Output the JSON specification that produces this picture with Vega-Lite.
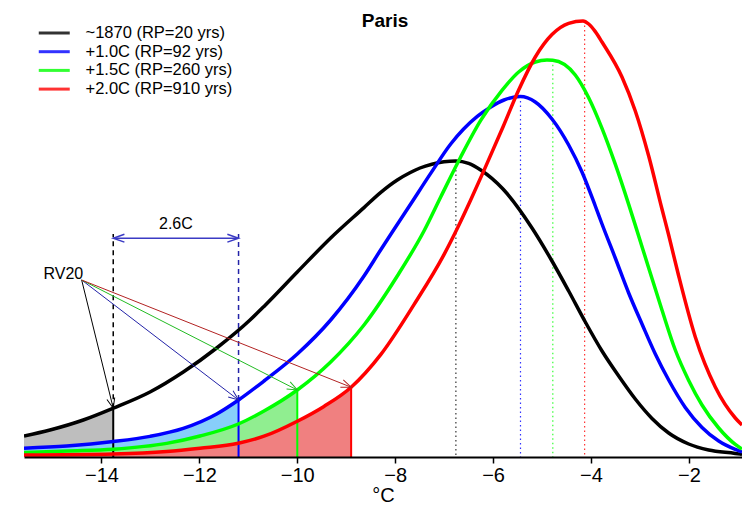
{
  "$schema": "https://vega.github.io/schema/vega-lite/v6.json",
  "width": 718,
  "height": 457,
  "autosize": {"type": "none"},
  "padding": {"left": 24, "top": 0, "right": 0, "bottom": 49},
  "background": "white",
  "config": {"view": {"stroke": null}, "font": "Liberation Sans"},
  "title": {"text": "Paris", "font": "Liberation Sans", "fontSize": 19, "fontWeight": "bold", "color": "#000000", "anchor": "middle", "frame": "group", "offset": -46, "baseline": "alphabetic", "dx": 2},
  "datasets": {
    "curves": [
      {"series": "~1870 (RP=20 yrs)", "x": -15.583, "density": 0.0105},
      {"series": "~1870 (RP=20 yrs)", "x": -15.052, "density": 0.0135},
      {"series": "~1870 (RP=20 yrs)", "x": -14.372, "density": 0.0185},
      {"series": "~1870 (RP=20 yrs)", "x": -13.76, "density": 0.0244},
      {"series": "~1870 (RP=20 yrs)", "x": -13.009, "density": 0.0325},
      {"series": "~1870 (RP=20 yrs)", "x": -12.329, "density": 0.0425},
      {"series": "~1870 (RP=20 yrs)", "x": -11.647, "density": 0.0545},
      {"series": "~1870 (RP=20 yrs)", "x": -10.966, "density": 0.0685},
      {"series": "~1870 (RP=20 yrs)", "x": -10.68, "density": 0.0753},
      {"series": "~1870 (RP=20 yrs)", "x": -10.0, "density": 0.0925},
      {"series": "~1870 (RP=20 yrs)", "x": -9.318, "density": 0.1095},
      {"series": "~1870 (RP=20 yrs)", "x": -8.637, "density": 0.1247},
      {"series": "~1870 (RP=20 yrs)", "x": -8.3, "density": 0.1322},
      {"series": "~1870 (RP=20 yrs)", "x": -7.957, "density": 0.1385},
      {"series": "~1870 (RP=20 yrs)", "x": -7.7, "density": 0.1421},
      {"series": "~1870 (RP=20 yrs)", "x": -7.493, "density": 0.1445},
      {"series": "~1870 (RP=20 yrs)", "x": -7.25, "density": 0.1464},
      {"series": "~1870 (RP=20 yrs)", "x": -7.003, "density": 0.1476},
      {"series": "~1870 (RP=20 yrs)", "x": -6.76, "density": 0.148},
      {"series": "~1870 (RP=20 yrs)", "x": -6.5, "density": 0.1468},
      {"series": "~1870 (RP=20 yrs)", "x": -6.253, "density": 0.1435},
      {"series": "~1870 (RP=20 yrs)", "x": -5.798, "density": 0.134},
      {"series": "~1870 (RP=20 yrs)", "x": -5.205, "density": 0.1145},
      {"series": "~1870 (RP=20 yrs)", "x": -4.797, "density": 0.098},
      {"series": "~1870 (RP=20 yrs)", "x": -4.456, "density": 0.083},
      {"series": "~1870 (RP=20 yrs)", "x": -4.116, "density": 0.0675},
      {"series": "~1870 (RP=20 yrs)", "x": -3.775, "density": 0.053},
      {"series": "~1870 (RP=20 yrs)", "x": -3.434, "density": 0.0405},
      {"series": "~1870 (RP=20 yrs)", "x": -3.095, "density": 0.029},
      {"series": "~1870 (RP=20 yrs)", "x": -2.754, "density": 0.0193},
      {"series": "~1870 (RP=20 yrs)", "x": -2.413, "density": 0.012},
      {"series": "~1870 (RP=20 yrs)", "x": -2.004, "density": 0.0065},
      {"series": "~1870 (RP=20 yrs)", "x": -1.596, "density": 0.0035},
      {"series": "~1870 (RP=20 yrs)", "x": -1.052, "density": 0.0018},
      {"series": "~1870 (RP=20 yrs)", "x": -0.915, "density": 0.0013},
      {"series": "+1.0C (RP=92 yrs)", "x": -15.583, "density": 0.0044},
      {"series": "+1.0C (RP=92 yrs)", "x": -14.711, "density": 0.0055},
      {"series": "+1.0C (RP=92 yrs)", "x": -13.76, "density": 0.0077},
      {"series": "+1.0C (RP=92 yrs)", "x": -13.009, "density": 0.0103},
      {"series": "+1.0C (RP=92 yrs)", "x": -12.329, "density": 0.0143},
      {"series": "+1.0C (RP=92 yrs)", "x": -11.647, "density": 0.0215},
      {"series": "+1.0C (RP=92 yrs)", "x": -11.2, "density": 0.0285},
      {"series": "+1.0C (RP=92 yrs)", "x": -10.68, "density": 0.038},
      {"series": "+1.0C (RP=92 yrs)", "x": -10.0, "density": 0.0515},
      {"series": "+1.0C (RP=92 yrs)", "x": -9.318, "density": 0.0685},
      {"series": "+1.0C (RP=92 yrs)", "x": -8.637, "density": 0.0905},
      {"series": "+1.0C (RP=92 yrs)", "x": -8.311, "density": 0.103},
      {"series": "+1.0C (RP=92 yrs)", "x": -8.059, "density": 0.1125},
      {"series": "+1.0C (RP=92 yrs)", "x": -7.683, "density": 0.1265},
      {"series": "+1.0C (RP=92 yrs)", "x": -7.275, "density": 0.1418},
      {"series": "+1.0C (RP=92 yrs)", "x": -6.866, "density": 0.1565},
      {"series": "+1.0C (RP=92 yrs)", "x": -6.323, "density": 0.1703},
      {"series": "+1.0C (RP=92 yrs)", "x": -6.063, "density": 0.1748},
      {"series": "+1.0C (RP=92 yrs)", "x": -5.777, "density": 0.1785},
      {"series": "+1.0C (RP=92 yrs)", "x": -5.444, "density": 0.1802},
      {"series": "+1.0C (RP=92 yrs)", "x": -5.138, "density": 0.1775},
      {"series": "+1.0C (RP=92 yrs)", "x": -4.797, "density": 0.169},
      {"series": "+1.0C (RP=92 yrs)", "x": -4.456, "density": 0.156},
      {"series": "+1.0C (RP=92 yrs)", "x": -4.184, "density": 0.1425},
      {"series": "+1.0C (RP=92 yrs)", "x": -3.912, "density": 0.1255},
      {"series": "+1.0C (RP=92 yrs)", "x": -3.775, "density": 0.1165},
      {"series": "+1.0C (RP=92 yrs)", "x": -3.504, "density": 0.0995},
      {"series": "+1.0C (RP=92 yrs)", "x": -3.23, "density": 0.082},
      {"series": "+1.0C (RP=92 yrs)", "x": -2.958, "density": 0.0665},
      {"series": "+1.0C (RP=92 yrs)", "x": -2.686, "density": 0.0515},
      {"series": "+1.0C (RP=92 yrs)", "x": -2.413, "density": 0.0385},
      {"series": "+1.0C (RP=92 yrs)", "x": -2.074, "density": 0.0248},
      {"series": "+1.0C (RP=92 yrs)", "x": -1.732, "density": 0.0148},
      {"series": "+1.0C (RP=92 yrs)", "x": -1.391, "density": 0.008},
      {"series": "+1.0C (RP=92 yrs)", "x": -1.052, "density": 0.0038},
      {"series": "+1.0C (RP=92 yrs)", "x": -0.915, "density": 0.0025},
      {"series": "+1.5C (RP=260 yrs)", "x": -15.583, "density": 0.0022},
      {"series": "+1.5C (RP=260 yrs)", "x": -14.7, "density": 0.003},
      {"series": "+1.5C (RP=260 yrs)", "x": -13.76, "density": 0.0039},
      {"series": "+1.5C (RP=260 yrs)", "x": -12.668, "density": 0.0068},
      {"series": "+1.5C (RP=260 yrs)", "x": -11.988, "density": 0.0105},
      {"series": "+1.5C (RP=260 yrs)", "x": -11.205, "density": 0.0165},
      {"series": "+1.5C (RP=260 yrs)", "x": -10.68, "density": 0.023},
      {"series": "+1.5C (RP=260 yrs)", "x": -10.0, "density": 0.0335},
      {"series": "+1.5C (RP=260 yrs)", "x": -9.318, "density": 0.0475},
      {"series": "+1.5C (RP=260 yrs)", "x": -8.637, "density": 0.066},
      {"series": "+1.5C (RP=260 yrs)", "x": -7.957, "density": 0.0905},
      {"series": "+1.5C (RP=260 yrs)", "x": -7.412, "density": 0.113},
      {"series": "+1.5C (RP=260 yrs)", "x": -7.07, "density": 0.13},
      {"series": "+1.5C (RP=260 yrs)", "x": -6.662, "density": 0.15},
      {"series": "+1.5C (RP=260 yrs)", "x": -6.253, "density": 0.1683},
      {"series": "+1.5C (RP=260 yrs)", "x": -5.818, "density": 0.1833},
      {"series": "+1.5C (RP=260 yrs)", "x": -5.477, "density": 0.1925},
      {"series": "+1.5C (RP=260 yrs)", "x": -5.138, "density": 0.1975},
      {"series": "+1.5C (RP=260 yrs)", "x": -4.899, "density": 0.1985},
      {"series": "+1.5C (RP=260 yrs)", "x": -4.782, "density": 0.1984},
      {"series": "+1.5C (RP=260 yrs)", "x": -4.321, "density": 0.191},
      {"series": "+1.5C (RP=260 yrs)", "x": -4.047, "density": 0.1796},
      {"series": "+1.5C (RP=260 yrs)", "x": -3.775, "density": 0.1643},
      {"series": "+1.5C (RP=260 yrs)", "x": -3.504, "density": 0.1464},
      {"series": "+1.5C (RP=260 yrs)", "x": -3.23, "density": 0.1263},
      {"series": "+1.5C (RP=260 yrs)", "x": -3.081, "density": 0.1148},
      {"series": "+1.5C (RP=260 yrs)", "x": -2.821, "density": 0.0945},
      {"series": "+1.5C (RP=260 yrs)", "x": -2.55, "density": 0.0735},
      {"series": "+1.5C (RP=260 yrs)", "x": -2.278, "density": 0.0535},
      {"series": "+1.5C (RP=260 yrs)", "x": -2.004, "density": 0.0383},
      {"series": "+1.5C (RP=260 yrs)", "x": -1.732, "density": 0.026},
      {"series": "+1.5C (RP=260 yrs)", "x": -1.391, "density": 0.0145},
      {"series": "+1.5C (RP=260 yrs)", "x": -1.052, "density": 0.0063},
      {"series": "+1.5C (RP=260 yrs)", "x": -0.915, "density": 0.004},
      {"series": "+2.0C (RP=910 yrs)", "x": -15.583, "density": 0.001},
      {"series": "+2.0C (RP=910 yrs)", "x": -13.76, "density": 0.0015},
      {"series": "+2.0C (RP=910 yrs)", "x": -12.668, "density": 0.0027},
      {"series": "+2.0C (RP=910 yrs)", "x": -11.988, "density": 0.0044},
      {"series": "+2.0C (RP=910 yrs)", "x": -11.205, "density": 0.0069},
      {"series": "+2.0C (RP=910 yrs)", "x": -10.68, "density": 0.0104},
      {"series": "+2.0C (RP=910 yrs)", "x": -10.0, "density": 0.0179},
      {"series": "+2.0C (RP=910 yrs)", "x": -9.455, "density": 0.0253},
      {"series": "+2.0C (RP=910 yrs)", "x": -8.9, "density": 0.0349},
      {"series": "+2.0C (RP=910 yrs)", "x": -8.296, "density": 0.0512},
      {"series": "+2.0C (RP=910 yrs)", "x": -7.616, "density": 0.0762},
      {"series": "+2.0C (RP=910 yrs)", "x": -7.003, "density": 0.1012},
      {"series": "+2.0C (RP=910 yrs)", "x": -6.717, "density": 0.115},
      {"series": "+2.0C (RP=910 yrs)", "x": -6.458, "density": 0.1285},
      {"series": "+2.0C (RP=910 yrs)", "x": -6.186, "density": 0.1433},
      {"series": "+2.0C (RP=910 yrs)", "x": -5.798, "density": 0.165},
      {"series": "+2.0C (RP=910 yrs)", "x": -5.477, "density": 0.1835},
      {"series": "+2.0C (RP=910 yrs)", "x": -5.138, "density": 0.2},
      {"series": "+2.0C (RP=910 yrs)", "x": -4.797, "density": 0.2112},
      {"series": "+2.0C (RP=910 yrs)", "x": -4.456, "density": 0.2168},
      {"series": "+2.0C (RP=910 yrs)", "x": -4.163, "density": 0.218},
      {"series": "+2.0C (RP=910 yrs)", "x": -4.047, "density": 0.2165},
      {"series": "+2.0C (RP=910 yrs)", "x": -3.912, "density": 0.2127},
      {"series": "+2.0C (RP=910 yrs)", "x": -3.775, "density": 0.2075},
      {"series": "+2.0C (RP=910 yrs)", "x": -3.367, "density": 0.19},
      {"series": "+2.0C (RP=910 yrs)", "x": -3.095, "density": 0.173},
      {"series": "+2.0C (RP=910 yrs)", "x": -2.821, "density": 0.1505},
      {"series": "+2.0C (RP=910 yrs)", "x": -2.55, "density": 0.124},
      {"series": "+2.0C (RP=910 yrs)", "x": -2.413, "density": 0.111},
      {"series": "+2.0C (RP=910 yrs)", "x": -2.208, "density": 0.0905},
      {"series": "+2.0C (RP=910 yrs)", "x": -1.869, "density": 0.06},
      {"series": "+2.0C (RP=910 yrs)", "x": -1.461, "density": 0.035},
      {"series": "+2.0C (RP=910 yrs)", "x": -1.052, "density": 0.0195},
      {"series": "+2.0C (RP=910 yrs)", "x": -0.915, "density": 0.016}
    ],
    "stats": [
      {"series": "~1870 (RP=20 yrs)", "rv20": -13.76, "d_rv": 0.0244, "mode": -6.76, "peak": 0.148},
      {"series": "+1.0C (RP=92 yrs)", "rv20": -11.2, "d_rv": 0.0285, "mode": -5.44, "peak": 0.1802},
      {"series": "+1.5C (RP=260 yrs)", "rv20": -10.0, "d_rv": 0.0335, "mode": -4.78, "peak": 0.1984},
      {"series": "+2.0C (RP=910 yrs)", "rv20": -8.9, "d_rv": 0.0349, "mode": -4.13, "peak": 0.218}
    ],
    "span": [
      {"from": -13.76, "to": -11.2, "level": 0.1094}
    ]
  },
  "layer": [
    {
      "data": {"name": "curves"},
      "transform": [
        {"filter": "(datum.series == '~1870 (RP=20 yrs)' && datum.x <= -13.7599) || (datum.series == '+1.0C (RP=92 yrs)' && datum.x <= -11.1999) || (datum.series == '+1.5C (RP=260 yrs)' && datum.x <= -9.9999) || (datum.series == '+2.0C (RP=910 yrs)' && datum.x <= -8.8999)"}
      ],
      "mark": {"type": "area", "interpolate": "monotone", "clip": true},
      "encoding": {
        "x": {"field": "x", "type": "quantitative", "scale": {"domain": [-15.583, -0.915], "nice": false, "zero": false},
              "axis": {"values": [-14, -12, -10, -8, -6, -4, -2], "title": "°C", "titleFont": "Liberation Sans", "titleFontSize": 20, "titleFontWeight": "normal", "titleColor": "#000000", "titlePadding": 0,
                       "labelFont": "Liberation Sans", "labelFontSize": 20, "labelColor": "#000000", "labelPadding": 2, "labelFlush": false,
                       "domainColor": "#000000", "domainWidth": 2, "tickColor": "#000000", "tickWidth": 1.5, "tickSize": 6, "grid": false, "zindex": 1}},
        "y": {"field": "density", "type": "quantitative", "stack": null, "scale": {"domain": [0, 0.2285], "nice": false}, "axis": null},
        "fill": {"field": "series", "type": "nominal",
                 "scale": {"domain": ["+1.0C (RP=92 yrs)", "~1870 (RP=20 yrs)", "+1.5C (RP=260 yrs)", "+2.0C (RP=910 yrs)"], "range": ["#87CEFA", "#BEBEBE", "#90EE90", "#F08080"]},
                 "legend": null}
      }
    },
    {
      "data": {"name": "stats"},
      "mark": {"type": "rule", "strokeWidth": 2},
      "encoding": {
        "x": {"field": "rv20", "type": "quantitative"},
        "y": {"field": "d_rv", "type": "quantitative"},
        "y2": {"datum": 0},
        "stroke": {"field": "series", "type": "nominal"}
      }
    },
    {
      "data": {"name": "stats"},
      "mark": {"type": "rule", "strokeWidth": 1.2, "strokeDash": [1.5, 3], "opacity": 0.8},
      "encoding": {
        "x": {"field": "mode", "type": "quantitative"},
        "y": {"field": "peak", "type": "quantitative"},
        "y2": {"datum": 0},
        "stroke": {"field": "series", "type": "nominal"}
      }
    },
    {
      "data": {"name": "stats"},
      "transform": [{"filter": {"field": "series", "oneOf": ["~1870 (RP=20 yrs)", "+1.0C (RP=92 yrs)"]}}],
      "mark": {"type": "rule", "strokeWidth": 1.5, "strokeDash": [5, 4]},
      "encoding": {
        "x": {"field": "rv20", "type": "quantitative"},
        "y": {"field": "d_rv", "type": "quantitative"},
        "y2": {"datum": 0.1115},
        "color": {"field": "series", "type": "nominal"}
      }
    },
    {
      "data": {"name": "curves"},
      "mark": {"type": "line", "interpolate": "monotone", "strokeWidth": 3.5, "clip": true},
      "encoding": {
        "x": {"field": "x", "type": "quantitative"},
        "y": {"field": "density", "type": "quantitative"},
        "stroke": {"field": "series", "type": "nominal",
                   "scale": {"domain": ["~1870 (RP=20 yrs)", "+1.0C (RP=92 yrs)", "+1.5C (RP=260 yrs)", "+2.0C (RP=910 yrs)"], "range": ["#000000", "#0000FF", "#00FF00", "#FF0000"]},
                   "legend": {"title": null, "orient": "none", "legendX": 20.75, "legendY": 23.5, "padding": 0, "symbolType": "M-2,0L2,0", "symbolSize": 240, "symbolStrokeWidth": 3,
                              "labelFont": "Liberation Sans", "labelFontSize": 16.5, "labelColor": "#000000", "labelOffset": 21.75, "rowPadding": 0.7}}
      }
    },
    {
      "data": {"name": "span"},
      "mark": {"type": "rule", "color": "#3b3bc4", "strokeWidth": 1.5},
      "encoding": {
        "x": {"field": "from", "type": "quantitative"},
        "x2": {"field": "to"},
        "y": {"field": "level", "type": "quantitative"}
      }
    },
    {
      "data": {"name": "span"},
      "transform": [
        {"fold": ["from", "to"], "as": ["end", "xpos"]},
        {"calculate": "datum.end == 'from' ? 180 : 0", "as": "ang"}
      ],
      "mark": {"type": "point", "shape": "M-1,-0.35L0,0L-1,0.35", "filled": false, "color": "#3b3bc4", "strokeWidth": 1.5, "size": 500, "opacity": 1},
      "encoding": {
        "x": {"field": "xpos", "type": "quantitative"},
        "y": {"field": "level", "type": "quantitative"},
        "angle": {"field": "ang", "type": "quantitative", "scale": null}
      }
    },
    {
      "data": {"values": [{"label": "2.6C"}]},
      "mark": {"type": "text", "font": "Liberation Sans", "fontSize": 16, "color": "#000000", "align": "center", "baseline": "middle"},
      "encoding": {
        "x": {"datum": -12.48},
        "y": {"datum": 0.1165},
        "text": {"field": "label"}
      }
    },
    {
      "data": {"name": "stats"},
      "mark": {"type": "rule", "strokeWidth": 1},
      "encoding": {
        "x": {"field": "rv20", "type": "quantitative"},
        "y": {"field": "d_rv", "type": "quantitative"},
        "x2": {"datum": -14.405},
        "y2": {"datum": 0.0885},
        "color": {"field": "series", "type": "nominal",
                  "scale": {"domain": ["+1.5C (RP=260 yrs)", "~1870 (RP=20 yrs)", "+1.0C (RP=92 yrs)", "+2.0C (RP=910 yrs)"], "range": ["#22bb22", "#000000", "#2323a8", "#b22222"]},
                  "legend": null}
      }
    },
    {
      "data": {"name": "stats"},
      "transform": [
        {"calculate": "atan2((0.0885 - datum.d_rv) * 2000, (datum.rv20 + 14.405) * 48.95) * 180 / PI", "as": "ang"}
      ],
      "mark": {"type": "point", "shape": "M-1,-0.4L0,0L-1,0.4", "filled": false, "strokeWidth": 1, "size": 400, "opacity": 1},
      "encoding": {
        "x": {"field": "rv20", "type": "quantitative"},
        "y": {"field": "d_rv", "type": "quantitative"},
        "angle": {"field": "ang", "type": "quantitative", "scale": null},
        "color": {"field": "series", "type": "nominal"}
      }
    },
    {
      "data": {"values": [{"label": "RV20"}]},
      "mark": {"type": "text", "font": "Liberation Sans", "fontSize": 16, "color": "#000000", "align": "center", "baseline": "middle"},
      "encoding": {
        "x": {"datum": -14.78},
        "y": {"datum": 0.0915},
        "text": {"field": "label"}
      }
    }
  ]
}
